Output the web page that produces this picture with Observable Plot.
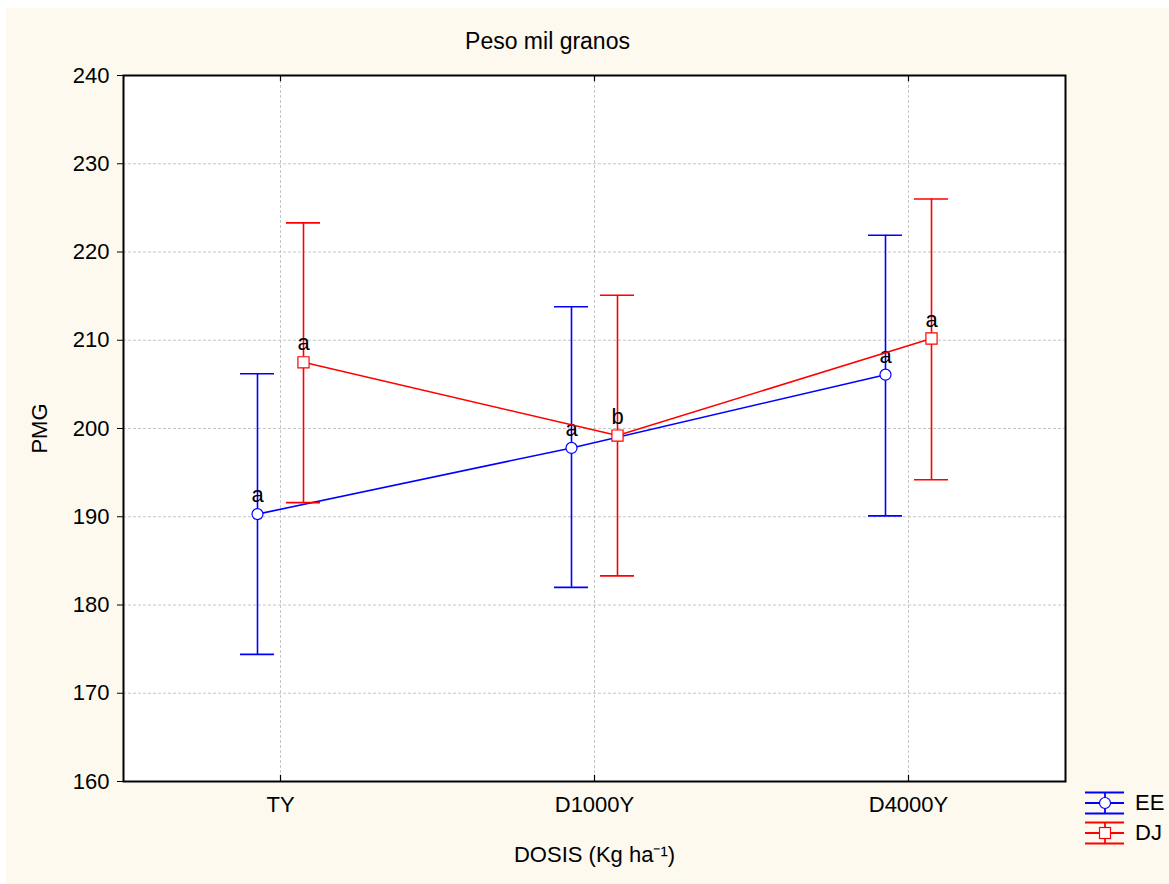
<!DOCTYPE html>
<html>
<head>
<meta charset="utf-8">
<script src="https://cdn.jsdelivr.net/npm/d3@7"></script>
<script src="https://cdn.jsdelivr.net/npm/@observablehq/plot@0.6"></script>
<style>
  html, body { margin: 0; padding: 0; background: #ffffff; }
  #wrap { position: absolute; left: 6px; top: 8px; width: 1163px; height: 876px; background: #fdf9ee; }
  #legend { position: absolute; left: 1075px; top: 788px; font-family: "Liberation Sans", Arial, sans-serif; font-size: 22px; }
  #chart svg text { font-size: 22px !important; font-family: "Liberation Sans", Arial, sans-serif; }
  #chart svg text.title { font-size: 23px !important; }
</style>
</head>
<body>
<div id="wrap"><div id="chart"></div></div>
<div id="legend"></div>
<script>
const title = "Peso mil granos";
const categories = ["TY", "D1000Y", "D4000Y"];
const seriesNames = ["EE", "DJ"];
const eeMean = [190.3, 197.8, 206.1];
const eeLow = [174.4, 182.0, 190.1];
const eeHigh = [206.2, 213.8, 221.9];
const eeLetters = ["a", "a", "a"];
const djMean = [207.5, 199.2, 210.2];
const djLow = [191.6, 183.3, 194.2];
const djHigh = [223.3, 215.1, 226.0];
const djLetters = ["a", "b", "a"];
const yTicks = [160, 170, 180, 190, 200, 210, 220, 230, 240];

const ee = categories.map((c, i) => ({cat: c, mean: eeMean[i], low: eeLow[i], high: eeHigh[i], letter: eeLetters[i]}));
const dj = categories.map((c, i) => ({cat: c, mean: djMean[i], low: djLow[i], high: djHigh[i], letter: djLetters[i]}));

const BLUE = "#0000ff", RED = "#ff0000";
const OFF = 23;
const BAND = 314; // approx band width in px (frame 942 / 3)
const CAP = BAND / 2 - 17;

function seriesMarks(data, color, dx, symbol, r) {
  return [
    Plot.line(data, {x: "cat", y: "mean", dx, stroke: color, strokeWidth: 1.6}),
    Plot.ruleX(data, {x: "cat", y1: "low", y2: "high", dx, stroke: color, strokeWidth: 1.6}),
    Plot.tickY(data, {x: "cat", y: "low", dx, stroke: color, strokeWidth: 1.6, insetLeft: CAP, insetRight: CAP}),
    Plot.tickY(data, {x: "cat", y: "high", dx, stroke: color, strokeWidth: 1.6, insetLeft: CAP, insetRight: CAP}),
    Plot.dot(data, {x: "cat", y: "mean", dx, symbol, r, fill: "white", stroke: color, strokeWidth: 1.2}),
    Plot.text(data, {x: "cat", y: "mean", dx, dy: -19, text: "letter", fill: "black"})
  ];
}

const chart = Plot.plot({
  width: 1163,
  height: 876,
  marginLeft: 117,
  marginRight: 104,
  marginTop: 67,
  marginBottom: 103,
  style: {fontFamily: "'Liberation Sans', Arial, sans-serif", fontSize: "22px", background: "transparent", color: "black"},
  x: {type: "band", domain: categories, padding: 0, label: null},
  y: {domain: [160, 240], label: null},
  marks: [
    Plot.frame({fill: "white"}),
    Plot.gridY(yTicks, {stroke: "#b8b8b8", strokeOpacity: 1, strokeDasharray: "3,2", strokeWidth: 0.8}),
    Plot.gridX(categories, {stroke: "#b8b8b8", strokeOpacity: 1, strokeDasharray: "3,2", strokeWidth: 0.8}),
    Plot.axisY(yTicks, {tickSize: 6, tickPadding: 8, label: "PMG", labelAnchor: "center", labelOffset: 92, labelArrow: "none"}),
    Plot.axisX(categories, {tickSize: 0, tickPadding: 15, label: "DOSIS (Kg ha⁻¹)", labelAnchor: "center", labelOffset: 80, labelArrow: "none"}),
    Plot.ruleX(categories, {x: d => d, y1: 160, y2: 160.7, stroke: "black", strokeWidth: 1.2}),
    Plot.ruleX(categories, {x: d => d, y1: 239.3, y2: 240, stroke: "black", strokeWidth: 1.2}),
    ...seriesMarks(ee, BLUE, -OFF, "circle", 5.5),
    ...seriesMarks(dj, RED, OFF, "square", 6.3),
    Plot.text([title], {frameAnchor: "top", dy: -43, dx: -47, fill: "black", className: "title"}),
    Plot.frame({stroke: "black", strokeWidth: 2})
  ]
});
document.getElementById("chart").appendChild(chart);
chart.querySelectorAll("g.title text, .title text").forEach(t => t.classList.add("title"));

// legend
const legend = document.getElementById("legend");
const legendColors = [BLUE, RED];
legend.innerHTML = seriesNames.map((name, i) => {
  const c = legendColors[i];
  const marker = i === 0
    ? `<circle cx="30" cy="12" r="5.5" fill="white" stroke="${c}" stroke-width="1.2"/>`
    : `<rect x="24.5" y="6.5" width="11" height="11" fill="white" stroke="${c}" stroke-width="1.2"/>`;
  return `<div style="display:flex;align-items:center;height:30px;">
    <svg width="50" height="24" style="overflow:visible">
      <line x1="10" x2="49" y1="1.5" y2="1.5" stroke="${c}" stroke-width="1.8"/>
      <line x1="10" x2="49" y1="12" y2="12" stroke="${c}" stroke-width="1.8"/>
      <line x1="10" x2="49" y1="22.5" y2="22.5" stroke="${c}" stroke-width="1.8"/>
      <line x1="30" x2="30" y1="1.5" y2="22.5" stroke="${c}" stroke-width="1.8"/>
      ${marker}
    </svg>
    <span style="margin-left:10px">${name}</span></div>`;
}).join("");
</script>
</body>
</html>
